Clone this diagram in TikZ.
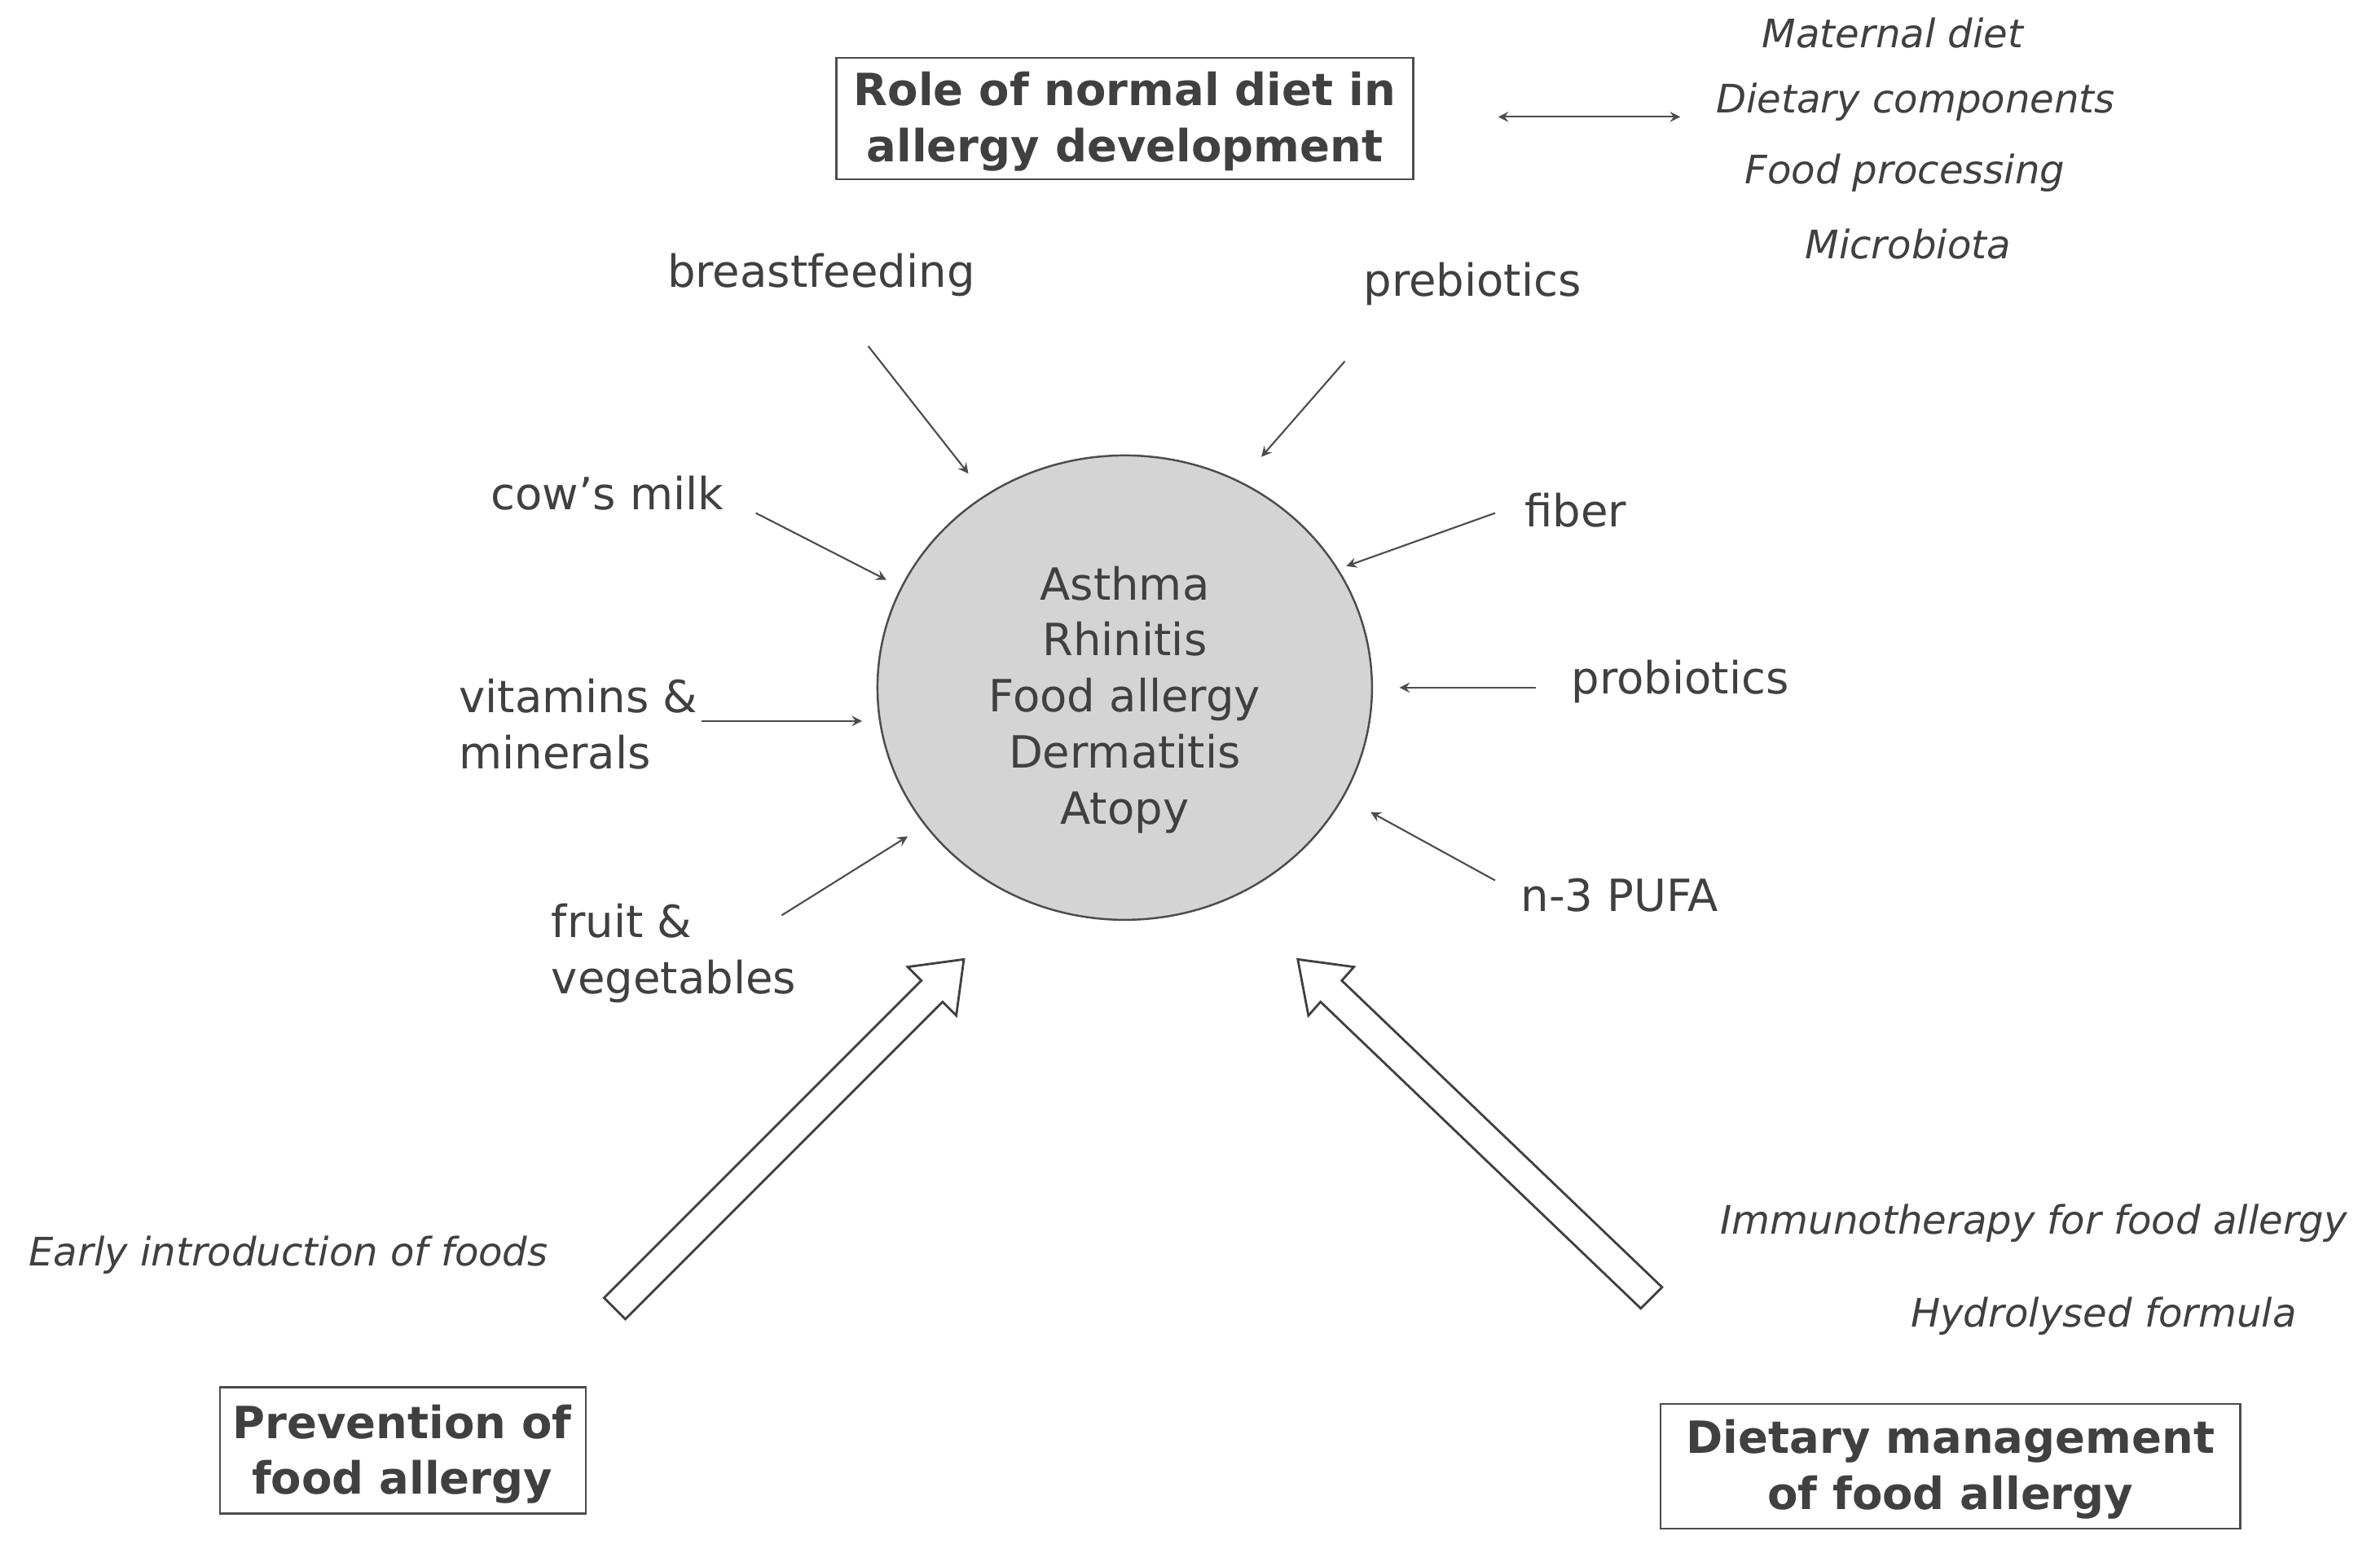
\documentclass[tikz,border=0pt]{standalone}
\usepackage{fontspec}
\setmainfont{DejaVu Sans}
\usetikzlibrary{shapes.geometric}
\begin{document}
\begin{tikzpicture}[x=0.01863cm,y=-0.01863cm,
  txt/.style={text=black!75,font=\fontsize{15.5pt}{19.5pt}\selectfont,inner sep=0pt},
  ital/.style={text=black!75,font=\fontsize{13.7pt}{16pt}\selectfont\itshape,inner sep=0pt},
  ttl/.style={text=black!75,font=\fontsize{15.5pt}{19.5pt}\selectfont\bfseries,align=center,inner sep=0pt},
  thin/.style={draw=black!70,line width=0.6pt,-stealth},
  big/.style={draw=black!75,fill=white,line width=0.8pt}]
\useasboundingbox (0,0) rectangle (1568,1020);
\node[ellipse,draw=black!70,fill=black!17,line width=0.7pt,minimum width=6.07cm,minimum height=5.70cm,inner sep=0pt] (c) at (741,453) {};
\node[txt,align=center,font=\fontsize{15.5pt}{19.6pt}\selectfont] (dis) at (741,461) {Asthma\\Rhinitis\\Food allergy\\Dermatitis\\Atopy};
% title boxes
\draw[black!70,line width=0.7pt] (551,38) rectangle (931,118);
\node[ttl] (role) at (741,80) {Role of normal diet in\\allergy development};
\draw[black!70,line width=0.7pt] (145,914) rectangle (386,997);
\node[ttl] (prev) at (265,958) {Prevention of\\food allergy};
\draw[black!70,line width=0.7pt] (1094,925) rectangle (1476,1007);
\node[ttl] (mgmt) at (1285,968) {Dietary management\\of food allergy};
% italic notes
\node[ital] (m1) at (1247,22) {Maternal diet};
\node[ital] (m2) at (1262,67) {Dietary components};
\node[ital] (m3) at (1255,114) {Food processing};
\node[ital] (m4) at (1257,161) {Microbiota};
\node[ital] (early) at (190,827) {Early introduction of foods};
\node[ital] (immu) at (1340,806) {Immunotherapy for food allergy};
\node[ital] (hydro) at (1386,867) {Hydrolysed formula};
\coordinate (d1) at (987,77); \coordinate (d2) at (1107,77);
\draw[draw=black!70,line width=0.6pt,stealth-stealth] (d1) -- (d2);
% factors
\node[txt] (bf) at (541,181) {breastfeeding};
\node[txt] (pre) at (970,187) {prebiotics};
\node[txt] (cow) at (400,325) {cow’s milk};
\node[txt] (fib) at (1038,336) {fiber};
\node[txt,align=left,anchor=west] (vit) at (302,477) {vitamins \&\\minerals};
\node[txt] (pro) at (1107,449) {probiotics};
\node[txt,align=left,anchor=west] (fru) at (363,628) {fruit \&\\vegetables};
\node[txt] (n3) at (1067,590) {n-3 PUFA};
\coordinate (a1) at (572,228); \coordinate (b1) at (638,312);
\coordinate (a2) at (886,238); \coordinate (b2) at (831,301);
\coordinate (a3) at (498,338); \coordinate (b3) at (584,382);
\coordinate (a4) at (985,338); \coordinate (b4) at (887,373);
\coordinate (a5) at (462,475); \coordinate (b5) at (568,475);
\coordinate (a6) at (1012,453); \coordinate (b6) at (922,453);
\coordinate (a7) at (515,603); \coordinate (b7) at (598,551);
\coordinate (a8) at (985,580); \coordinate (b8) at (903,535);
\foreach \i in {1,...,8} \draw[thin] (a\i) -- (b\i);
% big hollow arrows
\draw[big] (398,855) -- (607,646) -- (598,637) -- (635,632) -- (630,669) -- (621,660) -- (412,869) -- cycle;
\draw[big] (1081,862) -- (870,660) -- (862,669) -- (855,632) -- (892,637) -- (884,646) -- (1095,848) -- cycle;
\end{tikzpicture}
\end{document}
